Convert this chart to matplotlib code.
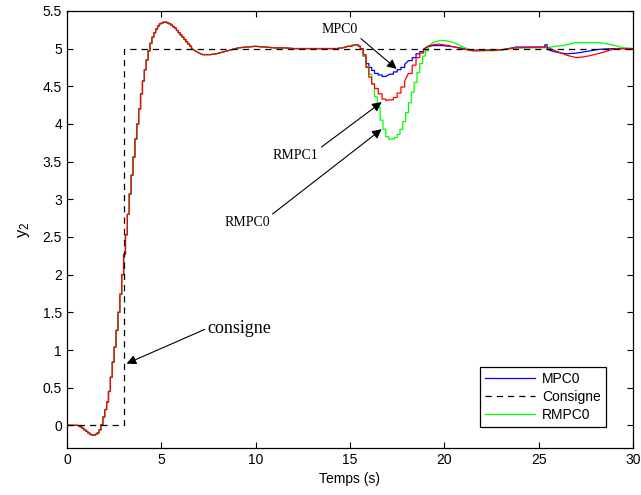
import matplotlib
matplotlib.use("Agg")
import matplotlib.pyplot as plt
import numpy as np

plt.rcParams['font.family'] = ['Liberation Sans', 'DejaVu Sans']
plt.rcParams['mathtext.default'] = 'regular'

# common part of the three responses (identical up to ~15.5 s)
t_common = [0, 0.5, 0.6, 0.7, 0.8, 0.9, 1.0, 1.1, 1.2, 1.3, 1.4, 1.5, 1.6, 1.7, 1.8, 1.9,
            2.0, 2.1, 2.2, 2.3, 2.4, 2.5, 2.6, 2.7, 2.8, 2.9, 3.0, 3.1, 3.2, 3.3, 3.4, 3.5,
            3.6, 3.7, 3.8, 3.9, 4.0, 4.1, 4.2, 4.3, 4.4, 4.5, 4.6, 4.7, 4.8, 4.9, 5.0, 5.1,
            5.2, 5.3, 5.4, 5.5, 5.6, 5.7, 5.8, 5.9, 6.0, 6.1, 6.2, 6.3, 6.4, 6.5, 6.6, 6.8,
            7.0, 7.2, 7.6, 7.9, 8.2, 8.5, 8.8, 9.1, 9.5, 10.0, 10.5, 11.0, 11.5, 12.0, 14.3,
            14.6, 14.9, 15.1, 15.3, 15.45, 15.55]
y_common = [0, 0, -0.01, -0.02, -0.04, -0.06, -0.08, -0.1, -0.12, -0.13, -0.13, -0.12, -0.1, -0.06, 0.01, 0.11,
            0.21, 0.31, 0.45, 0.64, 0.84, 1.04, 1.26, 1.5, 1.74, 2.0, 2.27, 2.53, 2.8, 3.07, 3.32, 3.56,
            3.8, 4.0, 4.2, 4.4, 4.57, 4.72, 4.85, 4.97, 5.07, 5.15, 5.21, 5.26, 5.3, 5.33, 5.34, 5.35,
            5.35, 5.34, 5.33, 5.31, 5.29, 5.27, 5.24, 5.21, 5.18, 5.15, 5.12, 5.09, 5.06, 5.03, 5.0, 4.97,
            4.94, 4.92, 4.92, 4.93, 4.95, 4.97, 4.99, 5.01, 5.02, 5.03, 5.02, 5.01, 5.01, 5.0, 5.0,
            5.01, 5.03, 5.04, 5.05, 5.03, 5.0]

# MPC0 after the disturbance
t_mpc0 = [15.7, 15.85, 16.0, 16.15, 16.3, 16.5, 16.7, 16.9, 17.1, 17.3, 17.5, 17.7, 17.9, 18.1,
          18.3, 18.5, 18.7, 18.9, 19.1, 19.4, 19.9, 20.6, 21.0, 21.4, 23.0, 23.4, 23.8, 25.2,
          25.33, 25.45, 25.8, 26.2, 26.5, 27.0, 27.5, 28.2, 29.0, 30.0]
y_mpc0 = [4.9, 4.8, 4.75, 4.71, 4.67, 4.65, 4.63, 4.63, 4.66, 4.69, 4.72, 4.75, 4.79, 4.84,
          4.88, 4.93, 4.96, 4.99, 5.02, 5.04, 5.04, 5.02, 5.0, 4.98, 4.98, 5.0, 5.02, 5.02,
          5.05, 4.99, 4.96, 4.94, 4.93, 4.94, 4.96, 4.99, 5.0, 5.0]

# RMPC1
t_rmpc1 = [15.7, 15.85, 16.0, 16.15, 16.3, 16.5, 16.7, 16.9, 17.1, 17.3, 17.5, 17.7, 17.9, 18.1,
           18.3, 18.5, 18.7, 18.9, 19.1, 19.4, 19.7, 20.2, 20.9, 21.5, 22.9, 23.8, 25.4, 25.7,
           26.0, 26.5, 27.0, 27.4, 27.8, 28.4, 29.1, 30.0]
y_rmpc1 = [4.92, 4.75, 4.62, 4.53, 4.47, 4.4, 4.33, 4.31, 4.32, 4.35, 4.41, 4.49, 4.57, 4.67,
           4.78, 4.88, 4.94, 4.99, 5.03, 5.05, 5.06, 5.04, 5.0, 4.97, 4.98, 5.01, 5.02, 4.99,
           4.96, 4.91, 4.88, 4.89, 4.91, 4.95, 5.0, 5.0]

# RMPC0
t_rmpc0 = [15.7, 15.85, 16.0, 16.15, 16.3, 16.45, 16.6, 16.75, 16.9, 17.05, 17.2, 17.35, 17.5,
           17.65, 17.8, 17.95, 18.1, 18.25, 18.4, 18.55, 18.7, 18.85, 19.0, 19.15, 19.4, 19.8,
           20.2, 20.5, 21.0, 21.5, 22.6, 23.3, 23.8, 25.4, 25.9, 26.3, 27.0, 28.2, 28.9, 29.5, 30.0]
y_rmpc0 = [4.9, 4.76, 4.66, 4.53, 4.36, 4.22, 4.05, 3.93, 3.83, 3.8, 3.8, 3.82, 3.86,
           3.93, 4.03, 4.15, 4.28, 4.42, 4.55, 4.68, 4.8, 4.9, 4.97, 5.03, 5.08, 5.11,
           5.1, 5.08, 5.02, 4.97, 4.97, 4.99, 5.01, 5.01, 5.03, 5.04, 5.08, 5.08, 5.05, 5.01, 5.0]

# set point
t_ref = [0, 3, 3, 30]
y_ref = [0, 0, 5, 5]


def sampled_path(t, y, dt_max=0.2):
    """ Zero-order-hold look where samples are dense, straight segments where sparse """
    xs, ys = [t[0]], [y[0]]
    for i in range(1, len(t)):
        if t[i] - t[i - 1] <= dt_max:
            xs.append(t[i])
            ys.append(y[i - 1])
        xs.append(t[i])
        ys.append(y[i])
    return xs, ys


fig = plt.figure(figsize=(6.41, 4.95), dpi=100)
ax = fig.add_axes([0.1045, 0.095, 0.883, 0.883])

h_mpc0, = ax.plot(*sampled_path(t_common + t_mpc0, y_common + y_mpc0), color='#0000ff', lw=0.9)
h_rmpc0, = ax.plot(*sampled_path(t_common + t_rmpc0, y_common + y_rmpc0), color='#00ff00', lw=0.9)
ax.plot(*sampled_path(t_common + t_rmpc1, y_common + y_rmpc1), color='#ff0000', lw=0.9)
h_ref, = ax.plot(t_ref, y_ref, 'k--', lw=0.9, dashes=(5, 4))

ax.set_xlim(0, 30)
ax.set_ylim(-0.3, 5.5)
ax.set_xticks(np.arange(0, 31, 5))
ax.set_yticks(np.arange(0, 5.6, 0.5))
ax.set_yticklabels(['0', '0.5', '1', '1.5', '2', '2.5', '3', '3.5', '4', '4.5', '5', '5.5'])
ax.tick_params(direction='in', top=True, right=True, labelsize=10, length=4, width=0.8)
for s in ax.spines.values():
    s.set_linewidth(0.9)
ax.set_xlabel('Temps (s)', fontsize=10)
ax.set_ylabel('y$_2$', fontsize=12, labelpad=8)

arrow = dict(arrowstyle='-|>', color='black', lw=0.8, mutation_scale=14, shrinkA=0, shrinkB=0)
serif = ['Liberation Serif', 'DejaVu Serif']
ax.annotate('MPC0', xy=(17.47, 4.73), xytext=(14.47, 5.25), fontsize=10, family=serif,
            ha='center', va='center', arrowprops=dict(arrow, relpos=(1.0, 0.0)))
ax.annotate('RMPC1', xy=(16.68, 4.29), xytext=(12.13, 3.58), fontsize=10, family=serif,
            ha='center', va='center', arrowprops=dict(arrow, relpos=(1.0, 1.0)))
ax.annotate('RMPC0', xy=(16.68, 3.93), xytext=(9.54, 2.69), fontsize=10, family=serif,
            ha='center', va='center', arrowprops=dict(arrow, relpos=(1.0, 1.0)))
ax.annotate('consigne', xy=(3.16, 0.82), xytext=(7.45, 1.29), fontsize=13, family=serif,
            ha='left', va='center', arrowprops=dict(arrow, relpos=(0.0, 0.5)))

leg = ax.legend([h_mpc0, h_ref, h_rmpc0], ['MPC0', 'Consigne', 'RMPC0'],
                loc='lower right', bbox_to_anchor=(0.964, 0.032), fontsize=10,
                fancybox=False, edgecolor='black', framealpha=1, handlelength=3.6,
                borderpad=0.35, labelspacing=0.3, handletextpad=0.5)
leg.get_frame().set_linewidth(0.9)

fig.savefig('out.png', dpi=100)
